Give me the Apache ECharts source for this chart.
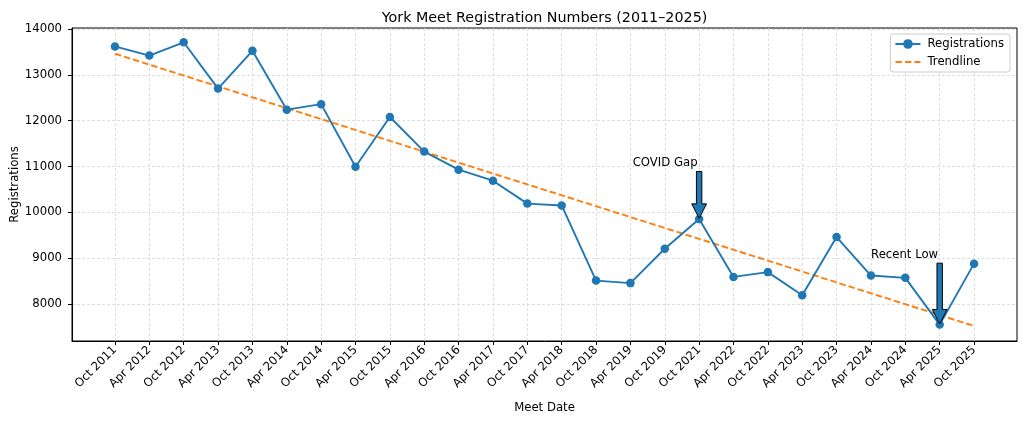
<!DOCTYPE html>
<html>
<head>
<meta charset="utf-8">
<script src="https://cdn.jsdelivr.net/npm/echarts@6/dist/echarts.min.js"></script>
<style>
html,body{margin:0;padding:0;background:#fff;}
#chart{width:1024px;height:422px;}
</style>
</head>
<body>
<div id="chart"></div>
<script>
const categories = ['Oct 2011','Apr 2012','Oct 2012','Apr 2013','Oct 2013','Apr 2014','Oct 2014','Apr 2015','Oct 2015','Apr 2016','Oct 2016','Apr 2017','Oct 2017','Apr 2018','Oct 2018','Apr 2019','Oct 2019','Oct 2021','Apr 2022','Oct 2022','Apr 2023','Oct 2023','Apr 2024','Oct 2024','Apr 2025','Oct 2025'];
const registrations = [13620,13420,13710,12700,13525,12240,12360,10995,12080,11325,10930,10690,10190,10150,8510,8455,9205,9855,8590,8695,8190,9460,8620,8570,7550,8880];
const trendStart = 13460;
const trendEnd = 7520;
const yTicks = [8000,9000,10000,11000,12000,13000,14000];
const annotIndex = [17, 24];
const annotText = ['COVID Gap', 'Recent Low'];
const annotTextY = [11000, 9000];

const xTicks = categories.map((c, i) => i);
const FONT = 'DejaVu Sans';
const FS = 11.7;
const chart = echarts.init(document.getElementById('chart'), null, {renderer: 'canvas'});

const gridLine = {show: true, lineStyle: {color: '#d6d6d6', width: 0.8, type: [3, 2]}};

chart.setOption({
  animation: false,
  backgroundColor: '#fff',
  title: {
    text: 'York Meet Registration Numbers (2011\u20132025)',
    left: 539.5, textAlign: 'center', top: 6,
    textStyle: {fontFamily: FONT, fontSize: 14.3, fontWeight: 'normal', color: '#000'}
  },
  legend: {
    orient: 'vertical', right: 14, top: 34,
    padding: [4, 6, 4, 4],
    itemWidth: 25, itemHeight: 12, itemGap: 6,
    backgroundColor: 'rgba(255,255,255,0.8)',
    borderColor: '#cccccc', borderWidth: 1, borderRadius: 3,
    textStyle: {fontFamily: FONT, fontSize: FS, color: '#000', padding: [0, 0, 0, 2]},
    data: [{name: 'Registrations'}, {name: 'Trendline', itemStyle: {opacity: 0}}]
  },
  grid: {left: 72, right: 7, top: 28, bottom: 81, show: true, borderColor: '#000', borderWidth: 1, containLabel: false, outerBoundsMode: 'none'},
  xAxis: {
    type: 'value', min: -1.25, max: 26.25,
    name: 'Meet Date', nameLocation: 'middle', nameGap: 61, nameMoveOverlap: false,
    nameTextStyle: {fontFamily: FONT, fontSize: FS, color: '#000'},
    axisLine: {show: true, onZero: false, lineStyle: {color: '#000', width: 1}},
    axisTick: {show: true, length: 4, customValues: xTicks, lineStyle: {color: '#000', width: 1}},
    axisLabel: {
      customValues: xTicks, rotate: 45, margin: 7,
      fontFamily: FONT, fontSize: FS, color: '#000',
      formatter: v => categories[Math.round(v)] || ''
    },
    splitLine: gridLine
  },
  yAxis: {
    type: 'value', min: 7192, max: 14022,
    name: 'Registrations', nameLocation: 'middle', nameGap: 51, nameRotate: 90, nameMoveOverlap: false,
    nameTextStyle: {fontFamily: FONT, fontSize: FS, color: '#000'},
    axisLine: {show: true, onZero: false, lineStyle: {color: '#000', width: 1}},
    axisTick: {show: true, length: 4, customValues: yTicks, lineStyle: {color: '#000', width: 1}},
    axisLabel: {customValues: yTicks, margin: 10, fontFamily: FONT, fontSize: FS, color: '#000', formatter: v => String(v)},
    splitLine: gridLine
  },
  series: [
    {
      name: 'Registrations', type: 'line',
      data: registrations.map((v, i) => [i, v]),
      symbol: 'circle', symbolSize: 8.5,
      itemStyle: {color: '#1f77b4'},
      lineStyle: {color: '#1f77b4', width: 1.9},
      z: 3
    },
    {
      name: 'Trendline', type: 'line',
      data: [[0, trendStart], [categories.length - 1, trendEnd]],
      symbol: 'none', showSymbol: false,
      itemStyle: {color: '#ff7f0e'},
      lineStyle: {color: '#ff7f0e', width: 1.9, type: [6.5, 3]},
      z: 2
    }
  ]
});

const graphics = [];
annotIndex.forEach((idx, k) => {
  const tip = chart.convertToPixel({gridIndex: 0}, [idx, registrations[idx]]);
  const base = chart.convertToPixel({gridIndex: 0}, [idx, annotTextY[k]]);
  const tx = tip[0], ty = tip[1] - 0.6;
  const sy = base[1] + 5;
  const hs = 2.7, hh = 7.4, hl = 14.5;
  graphics.push({
    type: 'polygon', z: 100,
    shape: {points: [[tx - hs, sy], [tx + hs, sy], [tx + hs, ty - hl], [tx + hh, ty - hl], [tx, ty], [tx - hh, ty - hl], [tx - hs, ty - hl]]},
    style: {fill: '#1f77b4', stroke: '#000', lineWidth: 1}
  });
  graphics.push({
    type: 'text', z: 100,
    x: tx - 1.5, y: base[1] + 2.8,
    style: {text: annotText[k], fontFamily: FONT, fontSize: FS, fill: '#000', textAlign: 'right', textVerticalAlign: 'bottom'}
  });
});
chart.setOption({graphic: graphics});
</script>
</body>
</html>
